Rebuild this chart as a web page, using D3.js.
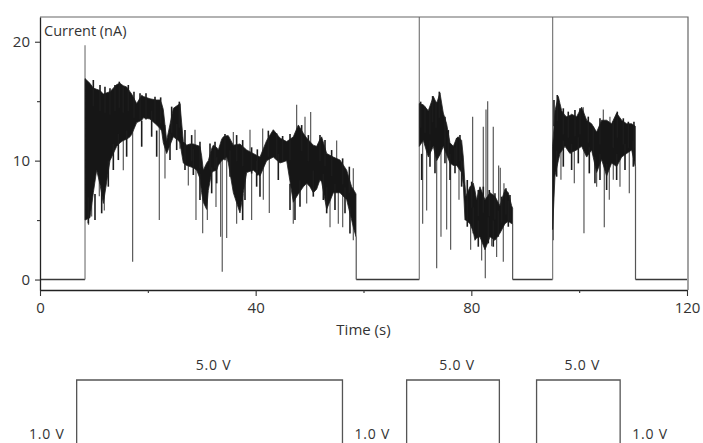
<!DOCTYPE html>
<html>
<head>
<meta charset="utf-8">
<script src="https://cdn.jsdelivr.net/npm/d3@7"></script>
<style>
  html, body { margin: 0; padding: 0; background: #fff; }
  svg text { font-family: "Open Sans", "Noto Sans", sans-serif; fill: #333; }
</style>
</head>
<body>
<svg id="chart" width="703" height="443"></svg>
<script>
// Current trace: dense band of the recorded current, [time s, lower nA, upper nA]
const bandRun1 = [
  [8.35, 5.0, 16.9], [9.27, 5.2, 16.5], [9.89, 7.3, 16.1], [10.51, 9.2, 16.0],
  [11.13, 8.0, 15.9], [11.75, 6.4, 15.6], [12.98, 10.0, 15.8], [14.22, 11.2, 16.4],
  [14.84, 11.5, 16.5], [15.45, 11.7, 16.3], [16.07, 11.8, 16.2], [16.69, 12.0, 15.8],
  [17.0, 12.2, 15.6], [17.93, 13.2, 14.8], [18.86, 13.4, 15.5], [19.16, 13.6, 15.4],
  [20.4, 13.5, 15.2], [21.64, 13.0, 15.1], [22.26, 12.7, 15.1], [22.56, 12.5, 14.8],
  [22.87, 11.5, 14.3], [23.49, 10.6, 11.7], [24.73, 12.0, 14.4], [25.66, 11.7, 14.7],
  [25.96, 11.5, 14.8], [26.58, 9.8, 11.6], [27.2, 9.6, 11.3], [27.82, 9.5, 11.4],
  [28.44, 9.4, 11.4], [29.06, 9.2, 11.3], [29.67, 8.5, 11.2], [29.98, 7.3, 10.4],
  [30.29, 6.5, 9.2], [30.91, 5.9, 9.8], [31.22, 7.5, 10.0], [31.84, 9.0, 11.0],
  [32.15, 9.1, 11.3], [32.77, 9.2, 11.1], [33.07, 9.6, 10.9], [33.69, 10.0, 11.8],
  [34.0, 10.1, 12.0], [34.62, 10.3, 12.1], [34.93, 9.8, 12.1], [35.86, 7.3, 11.3],
  [37.09, 5.6, 11.4], [38.33, 9.0, 10.9], [39.56, 9.2, 10.6], [40.8, 8.7, 10.3],
  [42.04, 10.0, 11.7], [43.27, 10.3, 12.6], [44.51, 9.8, 11.9], [45.75, 10.0, 11.6],
  [46.98, 6.5, 12.0], [47.91, 7.2, 13.0], [48.84, 7.8, 12.3], [49.46, 8.1, 11.9],
  [50.07, 7.8, 11.6], [50.69, 7.3, 11.3], [51.31, 7.6, 11.2], [51.93, 8.4, 11.8],
  [52.24, 8.2, 12.0], [53.17, 5.9, 10.6], [54.4, 7.3, 10.3], [55.64, 7.3, 10.05],
  [56.88, 6.7, 9.2], [57.8, 5.0, 7.8], [58.11, 4.4, 7.6], [58.61, 3.6, 7.2]
];
const bandRun2 = [
  [70.35, 11.2, 14.8], [71.09, 11.7, 14.7], [72.02, 10.3, 14.2], [72.95, 11.2, 15.4],
  [73.57, 10.0, 14.8], [74.18, 10.5, 15.7], [74.8, 11.2, 14.0], [75.42, 10.5, 13.1],
  [76.04, 9.8, 11.5], [76.66, 9.6, 11.2], [77.28, 9.6, 11.9], [77.58, 9.4, 12.0],
  [78.2, 9.0, 11.7], [78.51, 8.0, 10.3], [78.82, 5.0, 8.0], [79.0, 5.0, 7.0],
  [79.75, 4.7, 7.8], [80.37, 4.0, 8.1], [80.67, 3.3, 7.5], [80.98, 3.5, 6.7],
  [81.6, 3.6, 7.8], [82.53, 2.5, 6.7], [83.46, 3.6, 7.3], [84.38, 3.3, 7.0],
  [85.31, 3.9, 6.2], [86.24, 4.7, 7.6], [86.86, 4.9, 7.3], [87.48, 4.7, 6.2],
  [87.66, 4.7, 6.0]
];
const bandRun3 = [
  [95.08, 4.2, 11.2], [95.51, 8.7, 14.2], [96.13, 10.0, 15.4], [96.44, 10.6, 14.8],
  [96.75, 10.8, 14.2], [97.37, 11.2, 13.8], [97.68, 11.0, 13.7], [98.29, 10.6, 13.8],
  [98.6, 10.7, 13.9], [99.53, 10.9, 13.7], [100.46, 11.2, 14.5], [101.39, 10.3, 13.4],
  [102.31, 10.9, 13.1], [103.24, 9.0, 12.4], [104.17, 10.1, 13.4], [105.09, 8.7, 13.4],
  [106.02, 9.8, 13.1], [106.95, 9.5, 14.0], [107.88, 10.3, 13.4], [108.81, 10.6, 13.1],
  [109.73, 10.9, 13.1], [110.41, 9.5, 12.9]
];

// Short noise peaks along the top of the band: [time s, peak nA]
const upperTips = [
  [9.89, 16.78], [11.13, 16.36], [12.05, 16.22], [12.98, 16.08], [13.91, 16.36],
  [14.71, 16.64], [15.45, 16.22], [16.38, 16.36], [17.43, 15.8], [18.55, 15.66],
  [19.66, 15.66], [21.33, 15.38], [22.38, 15.32], [24.42, 14.54], [25.84, 14.96],
  [26.89, 12.57], [28.13, 12.15], [29.67, 11.59], [31.53, 11.45], [32.46, 11.59],
  [34.31, 12.24], [36.47, 12.15], [37.59, 11.73], [39.25, 11.12], [40.31, 10.95],
  [42.35, 12.52], [43.89, 12.29], [45.0, 12.07], [46.37, 12.24], [48.53, 12.99],
  [49.77, 12.15], [51.93, 12.15], [52.86, 11.73], [54.09, 10.89], [56.13, 10.19],
  [57.37, 9.49],
  [70.6, 14.96], [71.4, 14.54], [72.33, 14.4], [72.82, 15.43], [73.44, 14.96],
  [74.06, 15.8], [75.11, 13.7], [75.73, 12.57], [77.28, 11.87], [77.89, 12.15],
  [79.25, 8.37], [80.06, 8.23], [81.29, 7.53], [82.22, 7.81], [83.33, 7.53],
  [84.38, 7.25], [85.62, 6.97], [86.42, 7.67], [87.17, 7.11],
  [95.33, 15.1], [95.94, 15.52], [97.06, 14.4], [97.98, 14.12], [99.22, 14.26],
  [100.15, 14.4], [101.69, 13.7], [102.62, 12.85], [103.86, 13.56], [106.33, 13.27],
  [107.07, 14.12], [108.19, 13.56], [109.12, 13.27], [110.16, 13.27]
];
// Short noise dips along the bottom of the band: [time s, dip nA]
const lowerTips = [
  [8.96, 4.72], [10.2, 5.0], [11.44, 5.57], [12.67, 7.81], [13.6, 9.21],
  [14.53, 10.05], [16.07, 10.33], [18.86, 11.17], [20.71, 12.01], [21.64, 10.33],
  [24.11, 10.05], [25.35, 10.89], [26.89, 9.21], [28.44, 8.79], [29.67, 6.69],
  [31.84, 7.25], [32.77, 8.09], [35.24, 8.65], [37.59, 5.0], [38.02, 6.69],
  [40.18, 7.81], [40.8, 6.97], [44.2, 8.37], [46.37, 5.85], [47.29, 5.0],
  [48.22, 6.13], [50.69, 6.97], [52.55, 6.69], [53.17, 5.57], [54.71, 5.85],
  [56.57, 5.57], [57.49, 3.88],
  [70.79, 8.37], [72.33, 9.49], [73.26, 8.93], [75.11, 9.77], [76.04, 8.37],
  [76.97, 8.93], [78.2, 7.81], [79.25, 4.44], [80.37, 3.88], [81.29, 2.76],
  [83.15, 3.04], [84.07, 2.76], [85.0, 3.6], [86.86, 4.44],
  [95.82, 8.65], [97.06, 9.49], [98.6, 9.21], [99.84, 9.77], [101.88, 8.93],
  [102.93, 8.09], [103.86, 8.37], [105.09, 7.53], [106.95, 8.37], [108.5, 9.21],
  [110.04, 9.49]
];

// Isolated excursions well beyond the band: [time s, low nA, high nA]
const spikes = [
  [9.0, 4.6, 12.0], [9.58, 5.3, 12.0], [11.0, 7.0, 12.0], [11.93, 5.8, 12.0],
  [15.45, 9.2, 12.0], [17.18, 1.5, 13.0], [22.13, 5.0, 13.0], [23.18, 8.5, 13.0],
  [25.96, 11.0, 14.8], [27.51, 7.9, 10.0], [28.75, 9.5, 12.6], [28.93, 5.0, 10.0],
  [30.17, 3.9, 9.0], [31.04, 5.0, 9.0], [32.64, 6.1, 10.0], [33.5, 3.6, 10.5],
  [33.8, 0.66, 10.5], [34.62, 3.5, 11.0], [35.86, 9.0, 12.4], [36.47, 4.7, 10.0],
  [38.95, 9.5, 12.6], [39.25, 5.0, 10.0], [41.3, 9.5, 12.7], [41.42, 6.7, 10.0],
  [42.53, 5.6, 11.0], [46.98, 4.7, 11.0], [47.6, 10.0, 14.7], [49.15, 9.0, 13.7],
  [49.46, 6.4, 10.0], [50.2, 9.0, 14.1], [53.79, 4.4, 9.0], [55.02, 8.5, 11.7],
  [55.33, 4.7, 9.0], [56.14, 4.4, 8.5], [58.11, 3.3, 9.35],
  [70.97, 4.7, 12.0], [71.71, 5.8, 12.0], [73.57, 0.94, 12.0], [74.37, 3.6, 12.0],
  [75.42, 4.2, 12.0], [76.16, 2.5, 10.5], [77.71, 6.7, 10.5], [79.87, 2.5, 7.0],
  [80.24, 5.0, 13.7], [81.91, 1.6, 6.0], [82.22, 5.0, 12.85], [82.59, 0.1, 6.0],
  [82.72, 5.0, 14.3], [83.03, 5.0, 15.0], [83.77, 2.8, 6.0], [84.07, 5.0, 12.85],
  [84.69, 1.9, 6.0], [85.06, 5.0, 9.6], [85.37, 5.0, 9.4], [85.93, 1.5, 6.0],
  [86.05, 5.5, 8.1],
  [95.2, 3.3, 10.0], [96.62, 8.4, 12.0], [99.1, 8.1, 12.0], [100.76, 12.0, 14.5],
  [100.89, 3.9, 12.0], [103.24, 7.8, 11.0], [104.48, 11.0, 14.3], [104.66, 4.4, 11.0],
  [105.59, 6.7, 11.0], [105.71, 11.0, 13.7], [106.33, 8.4, 11.0], [107.57, 7.8, 11.0],
  [109.3, 7.25, 11.0]
];

// Off periods at zero current, step onsets and step ends (time s, current nA)
const offIntervals = [[0, 8.35], [58.65, 70.35], [87.66, 95.08], [110.45, 120]];
const onsets = [[8.35, 19.7], [70.35, 23.5], [95.08, 23.5]];
const releases = [[58.65, 3.6], [87.66, 4.7], [110.45, 9.5]];

// Axis ticks
const xMajorTicks = [0, 40, 80, 120];
const xMinorTicks = [20, 60, 100];
const yMajorTicks = [0, 10, 20];
const yMinorTicks = [5, 15];

// Applied voltage schedule (time s, volts)
const baseVoltage = 1.0;
const pulseVoltage = 5.0;
const pulses = [[6.8, 56.1], [68.0, 85.2], [92.1, 107.6]];
const baseLabelSpots = [[6.8, "end"], [56.1, "start"], [107.6, "start"]];

const svg = d3.select("#chart");
svg.append("rect").attr("width", 703).attr("height", 443).attr("fill", "#fff");

const x = d3.scaleLinear().domain([0, 120]).range([40, 687]);
const y = d3.scaleLinear().domain([-0.88, 22.08]).range([290, 17]);
const vy = d3.scaleLinear().domain([baseVoltage, pulseVoltage]).range([448, 380]);

svg.append("defs").append("clipPath").attr("id", "plot-clip")
  .append("rect").attr("x", 40).attr("y", 17).attr("width", 648).attr("height", 273);

const plot = svg.append("g").attr("clip-path", "url(#plot-clip)");

// Zero-current baseline between pulses
const line = d3.line().x(d => x(d[0])).y(d => y(d[1]));
plot.selectAll("path.base").data(offIntervals).join("path")
  .attr("class", "base")
  .attr("d", d => line([[d[0], 0], [d[1], 0]]))
  .attr("fill", "none").attr("stroke", "#3a3a3a").attr("stroke-width", 1.6);

// Vertical transitions at pulse onsets and ends
plot.selectAll("line.onset").data(onsets).join("line")
  .attr("class", "onset")
  .attr("x1", d => x(d[0])).attr("x2", d => x(d[0]))
  .attr("y1", y(0)).attr("y2", d => y(d[1]))
  .attr("stroke", "#7a7a7a").attr("stroke-width", 1.2);
plot.selectAll("line.release").data(releases).join("line")
  .attr("class", "release")
  .attr("x1", d => x(d[0])).attr("x2", d => x(d[0]))
  .attr("y1", y(0)).attr("y2", d => y(d[1]))
  .attr("stroke", "#555").attr("stroke-width", 1.2);

// Isolated spikes
plot.selectAll("line.spike").data(spikes).join("line")
  .attr("class", "spike")
  .attr("x1", d => x(d[0])).attr("x2", d => x(d[0]))
  .attr("y1", d => y(d[1])).attr("y2", d => y(d[2]))
  .attr("stroke", "#5a5a5a").attr("stroke-width", 1.2);

// Dense current band
const area = d3.area().x(d => x(d[0])).y0(d => y(d[1])).y1(d => y(d[2]));
plot.selectAll("path.band").data([bandRun1, bandRun2, bandRun3]).join("path")
  .attr("class", "band")
  .attr("d", area)
  .attr("fill", "#161616").attr("stroke", "#222").attr("stroke-width", 0.8);

// Ragged noise at the band edges: each hair runs from the tip back into the band
const hairLen = 2.2;
plot.selectAll("line.up").data(upperTips).join("line")
  .attr("class", "up")
  .attr("x1", d => x(d[0])).attr("x2", d => x(d[0]))
  .attr("y1", d => y(d[1])).attr("y2", d => y(d[1] - hairLen))
  .attr("stroke", "#1c1c1c").attr("stroke-width", 1.6);
plot.selectAll("line.down").data(lowerTips).join("line")
  .attr("class", "down")
  .attr("x1", d => x(d[0])).attr("x2", d => x(d[0]))
  .attr("y1", d => y(d[1])).attr("y2", d => y(d[1] + hairLen))
  .attr("stroke", "#1c1c1c").attr("stroke-width", 1.6);

// Frame: top and right edges
svg.append("path")
  .attr("d", `M${x(0)},${y(22.08)}H${x(120) + 1}V${y(-0.88)}`)
  .attr("fill", "none").attr("stroke", "#666").attr("stroke-width", 1.2);

// Axes
svg.append("g").attr("transform", `translate(0,${y(-0.88)})`)
  .call(d3.axisBottom(x).tickValues(xMajorTicks).tickSize(6).tickSizeOuter(0).tickPadding(6));
svg.append("g").attr("transform", `translate(0,${y(-0.88)})`)
  .call(d3.axisBottom(x).tickValues(xMinorTicks).tickSize(3).tickSizeOuter(0).tickFormat(""))
  .select(".domain").remove();
svg.append("g").attr("transform", `translate(${x(0)},0)`)
  .call(d3.axisLeft(y).tickValues(yMajorTicks).tickSize(5).tickSizeOuter(0).tickPadding(5));
svg.append("g").attr("transform", `translate(${x(0)},0)`)
  .call(d3.axisLeft(y).tickValues(yMinorTicks).tickSize(3).tickSizeOuter(0).tickFormat(""))
  .select(".domain").remove();

svg.selectAll(".tick line").attr("stroke", "#333").attr("stroke-width", 1.1);
svg.selectAll(".domain").attr("stroke", "#222").attr("stroke-width", 1.3);
svg.selectAll(".tick text")
  .style("font-family", '"Open Sans", sans-serif')
  .style("font-size", "15px").attr("fill", "#333");

svg.append("text").attr("x", 44).attr("y", 36)
  .style("font-size", "14.5px").text("Current (nA)");
svg.append("text").attr("x", x(60)).attr("y", 335).attr("text-anchor", "middle")
  .style("font-size", "15px").text("Time (s)");

// Voltage schedule
const vPoints = [[x(0) - 40, baseVoltage]];
pulses.forEach(([a, b]) => {
  vPoints.push([x(a), baseVoltage], [x(a), pulseVoltage], [x(b), pulseVoltage], [x(b), baseVoltage]);
});
vPoints.push([x(120), baseVoltage]);
svg.append("path")
  .attr("d", d3.line().x(d => d[0]).y(d => vy(d[1]))(vPoints))
  .attr("fill", "none").attr("stroke", "#555").attr("stroke-width", 1.3);

const fmtV = v => d3.format(".1f")(v) + " V";
svg.selectAll("text.pulse").data(pulses).join("text")
  .attr("class", "pulse")
  .attr("x", d => x((d[0] + d[1]) / 2) + 4).attr("y", vy(pulseVoltage) - 10)
  .attr("text-anchor", "middle").style("font-size", "14px").style("letter-spacing", "0.8px")
  .text(fmtV(pulseVoltage));
svg.selectAll("text.base").data(baseLabelSpots).join("text")
  .attr("class", "base")
  .attr("x", d => x(d[0]) + (d[1] === "end" ? -12 : 12)).attr("y", vy(baseVoltage) - 9)
  .attr("text-anchor", d => d[1]).style("font-size", "14px").style("letter-spacing", "0.8px")
  .text(fmtV(baseVoltage));
</script>
</body>
</html>
